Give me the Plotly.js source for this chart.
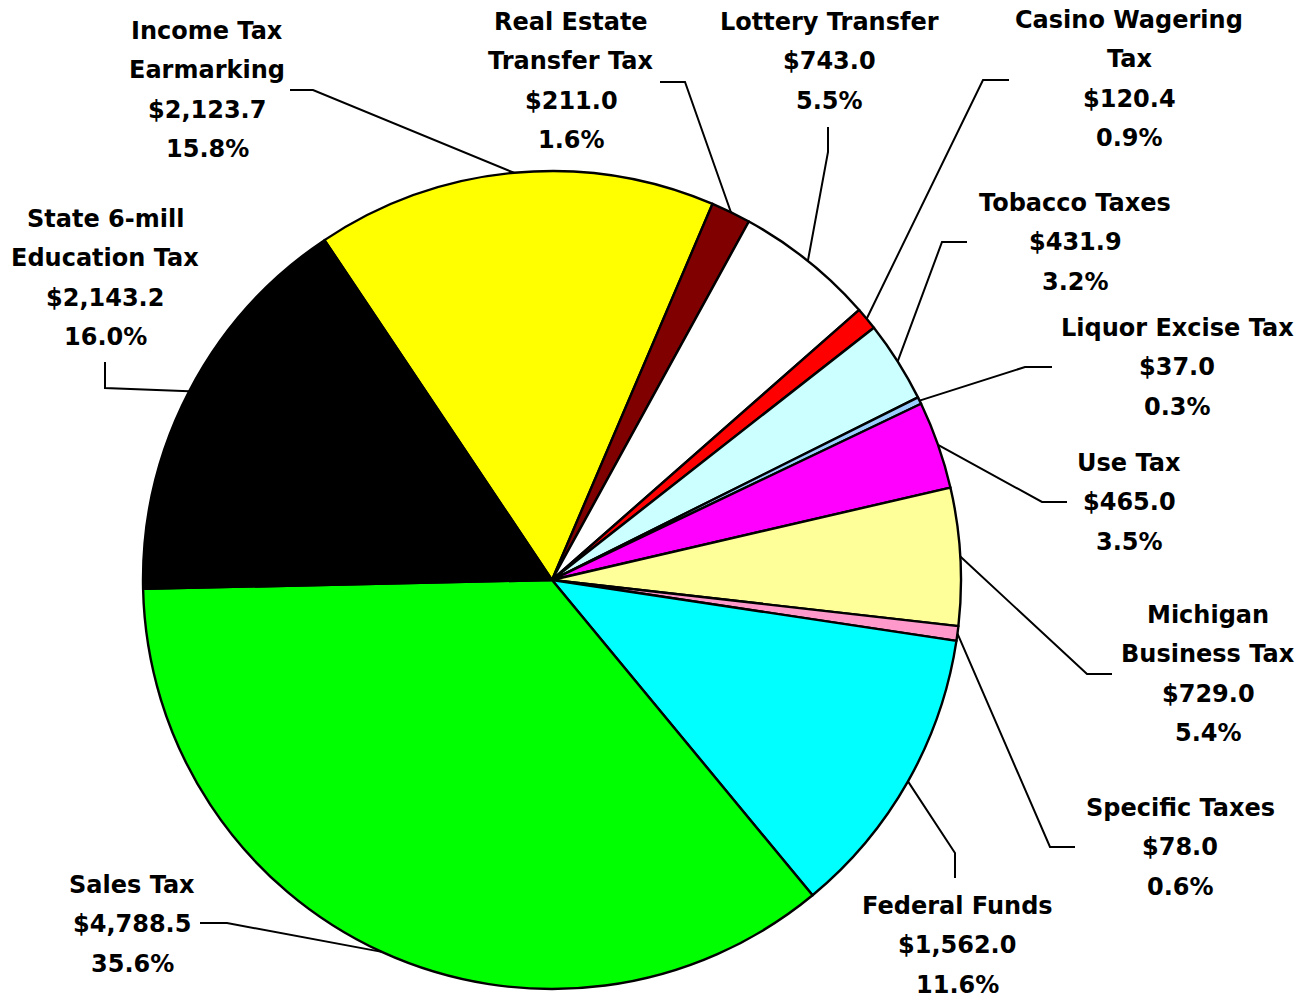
<!DOCTYPE html>
<html><head><meta charset="utf-8">
<script src="https://cdn.plot.ly/plotly-3.0.1.min.js"></script>
<style>html,body{margin:0;padding:0;background:#fff}</style>
</head><body><div id="chart" style="width:1313px;height:1000px"></div>
<script>
// ---- data ----
const categories = ["Income Tax Earmarking", "Real Estate Transfer Tax", "Lottery Transfer", "Casino Wagering Tax", "Tobacco Taxes", "Liquor Excise Tax", "Use Tax", "Michigan Business Tax", "Specific Taxes", "Federal Funds", "Sales Tax", "State 6-mill Education Tax"];
const nameLines = [["Income Tax", "Earmarking"], ["Real Estate", "Transfer Tax"], ["Lottery Transfer"], ["Casino Wagering", "Tax"], ["Tobacco Taxes"], ["Liquor Excise Tax"], ["Use Tax"], ["Michigan", "Business Tax"], ["Specific Taxes"], ["Federal Funds"], ["Sales Tax"], ["State 6-mill", "Education Tax"]];
const values = [2123.7, 211.0, 743.0, 120.4, 431.9, 37.0, 465.0, 729.0, 78.0, 1562.0, 4788.5, 2143.2];
const colors = ["#FFFF00", "#800000", "#FFFFFF", "#FF0000", "#CCFFFF", "#99CCFF", "#FF00FF", "#FFFF99", "#FF99CC", "#00FFFF", "#00FF00", "#000000"];

// ---- layout (pixels) ----
const W = 1313, H = 1000;
const CX = 552, CY = 580, R = 409;
const ROT = -33.8;
const PITCH = 39.3;
const labelPos = [[207, 31], [571, 22], [829, 22], [1129, 20], [1075, 203], [1177, 328], [1129, 463], [1208, 615], [1180, 808], [957, 906], [132, 885], [105, 219]];
const leaderPts = [
  [[313, 90], [290, 90]],
  [[685, 82], [660, 82]],
  [[828, 152], [828, 127]],
  [[983, 80], [1009, 80]],
  [[942, 242], [967, 242]],
  [[1025, 367], [1052, 367]],
  [[1042, 502], [1067, 502]],
  [[1087, 674], [1112, 674]],
  [[1050, 847], [1075, 847]],
  [[955, 853], [955, 878]],
  [[227, 923], [200, 923]],
  [[105, 388], [105, 362]]
];

const total = values.reduce((a, b) => a + b, 0);
const px = x => x / W, py = y => 1 - y / H;
const fmtMoney = v => '$' + v.toLocaleString('en-US', {minimumFractionDigits: 1, maximumFractionDigits: 1});
const fmtPct = v => (v / total * 100).toFixed(1) + '%';

const annotations = [];
const shapes = [];
const font = {family: 'DejaVu Sans', size: 24, color: '#000', weight: 'bold'};
let cum = 0;
values.forEach((v, i) => {
  const lines = nameLines[i].concat([fmtMoney(v), fmtPct(v)]);
  lines.forEach((t, k) => {
    annotations.push({
      text: t, showarrow: false, xref: 'paper', yref: 'paper',
      x: px(labelPos[i][0]), y: py(labelPos[i][1] + k * PITCH),
      xanchor: 'center', yanchor: 'middle', font: font
    });
  });
  const mid = (ROT + 360 * (cum + v / 2) / total) * Math.PI / 180;
  cum += v;
  const ex = CX + R * Math.sin(mid), ey = CY - R * Math.cos(mid);
  const pts = [[ex, ey]].concat(leaderPts[i]);
  const path = pts.map((p, j) => (j ? 'L' : 'M') + px(p[0]).toFixed(5) + ',' + py(p[1]).toFixed(5)).join(' ');
  shapes.push({type: 'path', xref: 'paper', yref: 'paper', path: path, line: {color: '#000', width: 2}});
});

const data = [{
  type: 'pie', labels: categories, values: values, sort: false,
  direction: 'clockwise', rotation: ROT,
  marker: {colors: colors, line: {color: '#000', width: 2.4}},
  textinfo: 'none', hoverinfo: 'skip', showlegend: false,
  domain: {x: [px(CX - R), px(CX + R)], y: [py(CY + R), py(CY - R)]}
}];
const layout = {
  width: W, height: H, margin: {l: 0, r: 0, t: 0, b: 0},
  paper_bgcolor: '#fff', plot_bgcolor: '#fff', showlegend: false,
  annotations: annotations, shapes: shapes
};
Plotly.newPlot('chart', data, layout, {displayModeBar: false, staticPlot: true});
</script></body></html>
